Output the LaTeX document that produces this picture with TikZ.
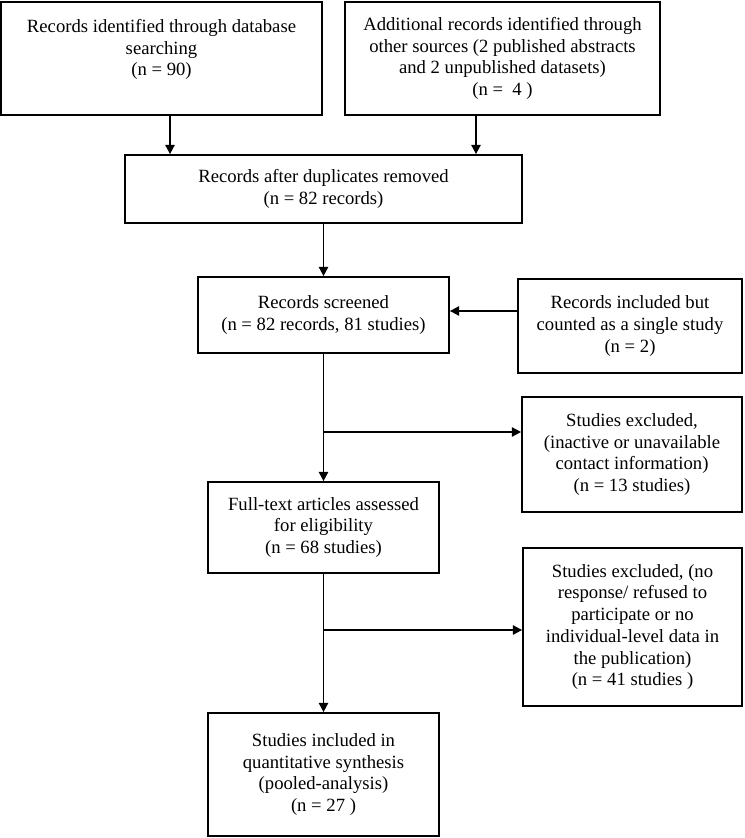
\documentclass[tikz,border=0pt]{standalone}
\usepackage{fontspec}
\setmainfont{Liberation Serif}
\usetikzlibrary{arrows.meta}
\begin{document}
\begin{tikzpicture}[x=0.75pt,y=-0.75pt,
  box/.style={draw, line width=1.3pt, rectangle, align=center, inner sep=0pt,
    font=\fontsize{14}{16.3}\selectfont},
  arr/.style={line width=1.3pt, -{Triangle[length=7pt,width=7pt]}},
  conn/.style={line width=1.3pt}]
\useasboundingbox (0,0) rectangle (744,838);

\node[box, minimum width=240.75pt, minimum height=84.75pt] (b1) at (161.5,58.5)
  {Records identified through database\\ searching\\ (n = 90)\\ \mbox{}};
\node[box, minimum width=236.25pt, minimum height=84.75pt] (b2) at (502.5,58.5)
  {Additional records identified through\\ other sources (2 published abstracts\\ and 2 unpublished datasets)\\ (n =\ \ 4 )};
\node[box, minimum width=297.75pt, minimum height=51pt] (b3) at (323.5,189)
  {Records after duplicates removed\\ (n = 82 records)};
\node[box, minimum width=188.25pt, minimum height=57pt] (b4) at (323.5,315)
  {Records screened\\ (n = 82 records, 81 studies)};
\node[box, minimum width=168pt, minimum height=70.5pt] (b5) at (630,326)
  {Records included but\\ counted as a single study\\ (n = 2)};
\node[box, minimum width=165pt, minimum height=86.25pt] (b6) at (632,454.5)
  {Studies excluded,\\ (inactive or unavailable\\ contact information)\\ (n = 13 studies)};
\node[box, minimum width=173.25pt, minimum height=68.25pt] (b7) at (323.5,527.5)
  {Full-text articles assessed\\ for eligibility\\ (n = 68 studies)};
\node[box, minimum width=164.25pt, minimum height=118.5pt] (b8) at (632.5,627)
  {Studies excluded, (no\\ response/ refused to\\ participate or no\\ individual-level data in\\ the publication)\\ (n = 41 studies )};
\node[box, minimum width=173.25pt, minimum height=92.25pt] (b9) at (323.5,774.5)
  {Studies included in\\ quantitative synthesis\\ (pooled-analysis)\\ (n = 27 )};

\coordinate (c1) at (170,0);
\coordinate (c2) at (476,0);
\coordinate (c5) at (0,311);
\coordinate (j1) at (323.5,432);
\coordinate (j2) at (323.5,630);

\draw[arr] (b1.south -| c1) -- (b3.north -| c1);
\draw[arr] (b2.south -| c2) -- (b3.north -| c2);
\draw[arr] (b3.south) -- (b4.north);
\draw[arr] (b5.west |- c5) -- (b4.east |- c5);
\draw[arr] (b4.south) -- (b7.north);
\draw[arr] (j1) -- (b6.west |- j1);
\draw[arr] (b7.south) -- (b9.north);
\draw[arr] (j2) -- (b8.west |- j2);
\end{tikzpicture}
\end{document}
